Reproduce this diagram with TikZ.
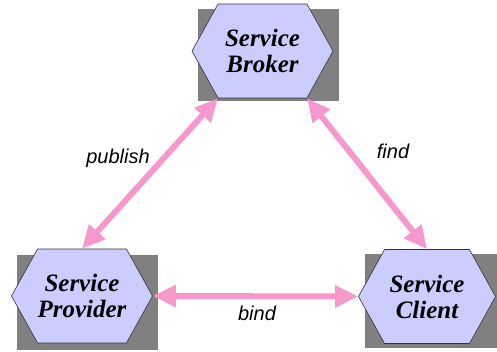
\documentclass[tikz,border=0pt]{standalone}
\usepackage{fontspec}
\setmainfont{Liberation Serif}
\newfontfamily\labelfont{Liberation Sans}
\usetikzlibrary{shapes.symbols, arrows.meta}
\definecolor{hexblue}{RGB}{204,204,255}
\definecolor{linkpink}{RGB}{246,152,204}
\definecolor{backgray}{RGB}{128,128,128}

\begin{document}
\begin{tikzpicture}[x=1pt, y=-1pt,
    service/.style={signal, signal to=east and west, signal pointer angle=122, draw=black!80, line width=0.6pt, fill=hexblue, minimum width=141pt, minimum height=94pt, inner sep=0pt, align=center, font=\fontsize{25}{26}\selectfont\bfseries\itshape},
    backing/.style={rectangle, fill=backgray, inner sep=0pt, minimum width=141pt, minimum height=92pt},
    link/.style={{Triangle[length=23pt, width=21pt]}-{Triangle[length=23pt, width=21pt]}, line width=6pt, draw=linkpink},
    tag/.style={font=\labelfont\itshape\fontsize{20}{22}\selectfont}]
    \useasboundingbox (0,0) rectangle (497,351);

    % grey backings
    \node[backing] (brokerbg) at (268,55) {};
    \node[backing, minimum height=95pt] (providerbg) at (87.5,302.5) {};
    \node[backing, minimum width=134pt, minimum height=94pt] (clientbg) at (432,301) {};

    % services
    \node[service] (broker) at (262.5,51) {Service\\Broker};
    \node[service] (provider) at (82,296) {Service\\Provider};
    \node[service, minimum width=137pt] (client) at (427,296.5) {Service\\Client};

    % links
    \draw[link] (broker.south west) -- (provider.north);
    \draw[link] (broker.south east) -- (client.north);
    \draw[link] (provider.east) -- (client.west);

    \node[tag] (publish) at (118,158) {publish};
    \node[tag] (find) at (393,151) {find};
    \node[tag] (bind) at (257,313) {bind};
\end{tikzpicture}
\end{document}
